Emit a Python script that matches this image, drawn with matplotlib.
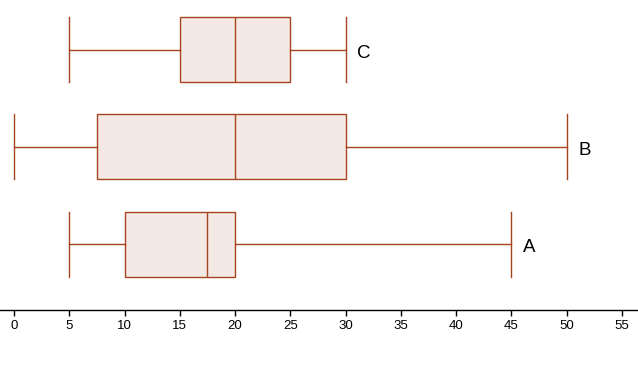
import matplotlib
matplotlib.use("Agg")
import matplotlib.pyplot as plt

plt.rcParams['font.family'] = ['Liberation Sans', 'DejaVu Sans']

labels = ["A", "B", "C"]
mins = [5, 0, 5]
q1s = [10, 7.5, 15]
medians = [17.5, 20, 20]
q3s = [20, 30, 25]
maxs = [45, 50, 30]
xticks = list(range(0, 60, 5))

edge = "#a5451e"
fill = "#f4e9e4"

fig = plt.figure(figsize=(6.38, 3.71), dpi=100)
ax = fig.add_axes([0, 61/371, 1, 310/371])

stats = []
for lab, mn, q1, md, q3, mx in zip(labels, mins, q1s, medians, q3s, maxs):
    stats.append(dict(label=lab, whislo=mn, q1=q1, med=md, q3=q3, whishi=mx, fliers=[]))

ax.bxp(stats, positions=[1, 2, 3], vert=False, widths=0.67, patch_artist=True,
       showfliers=False,
       boxprops=dict(facecolor=fill, edgecolor=edge, linewidth=1.0),
       medianprops=dict(color=edge, linewidth=1.0),
       whiskerprops=dict(color=edge, linewidth=1.0),
       capprops=dict(color=edge, linewidth=1.0), capwidths=0.67)

for i, (lab, mx) in enumerate(zip(labels, maxs)):
    ax.text(mx + 1.05, i + 1 - 0.035, lab, fontsize=13.5, va='center', ha='left', color='black')

ax.set_xlim(-1.27, 56.47)
ax.set_ylim(0.32, 3.515)
ax.set_xticks(xticks)
ax.set_xticklabels([str(t) for t in xticks], fontsize=9.5)
ax.set_yticks([])
for s in ['top', 'left', 'right']:
    ax.spines[s].set_visible(False)
ax.spines['bottom'].set_linewidth(1.0)
ax.tick_params(axis='x', length=4, width=1, pad=3)

fig.savefig("out.png", dpi=100)
